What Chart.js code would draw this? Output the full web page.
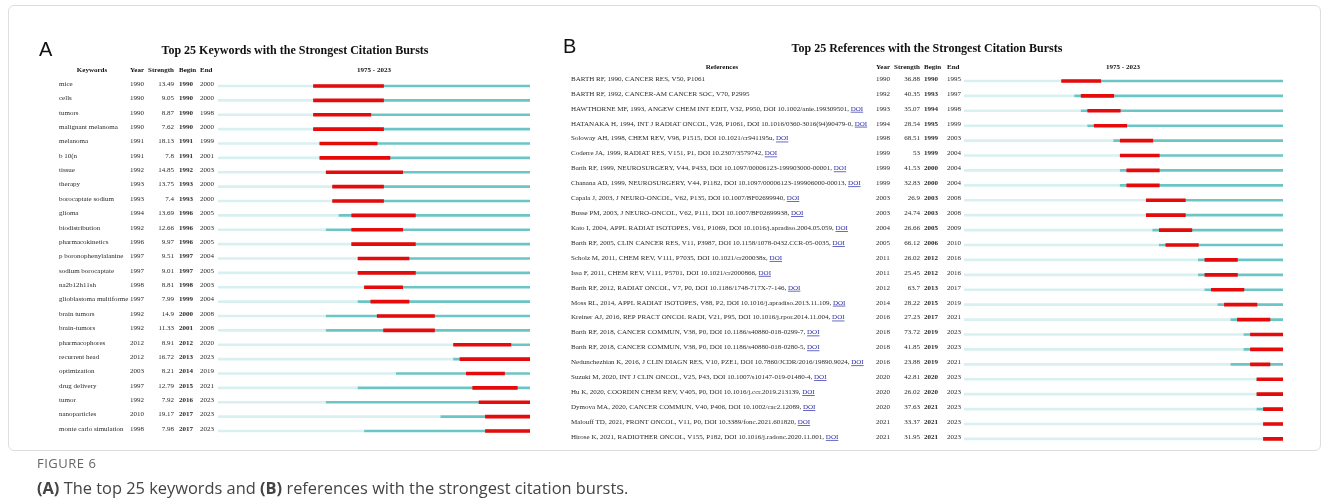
<!DOCTYPE html>
<html>
<head>
<meta charset="utf-8">
<title>Citation bursts</title>
<script src="https://cdn.jsdelivr.net/npm/chart.js@4.4.1/dist/chart.umd.min.js"></script>
<style>
  html, body { margin: 0; padding: 0; background: #fff; }
  body { width: 1328px; height: 501px; position: relative; overflow: hidden; font-family: "Liberation Serif", serif; color: #222; }
  .abs { position: absolute; white-space: nowrap; }
  .frame { position: absolute; left: 8px; top: 5px; width: 1311px; height: 444px; border: 1px solid #dedede; border-radius: 6px; }
  .panel { font-family: "Liberation Sans", Arial, sans-serif; font-size: 20px; line-height: 20px; color: #111; }
  .title { font-weight: bold; font-size: 12px; line-height: 14px; transform: translateX(-50%); color: #111; }
  .hdr { font-weight: bold; font-size: 7px; line-height: 8px; color: #111; }
  .ctr { transform: translateX(-50%); }
  .figlabel { font-family: "Open Sans", sans-serif; font-size: 13px; line-height: 16px; color: #666; letter-spacing: 0.5px; }
  .caption { font-family: "Open Sans", sans-serif; font-size: 16.4px; line-height: 20px; color: #444; }
  .caption b { font-weight: bold; }
  canvas { position: absolute; top: 0; }
</style>
</head>
<body>
<div class="frame"></div>

<canvas id="kwChart" width="560" height="501" style="left:0px;width:560px;height:501px"></canvas>
<canvas id="refChart" width="768" height="501" style="left:560px;width:768px;height:501px"></canvas>

<div class="abs panel" style="left:39px;top:39px">A</div>
<div class="abs title" style="left:295px;top:43px">Top 25 Keywords with the Strongest Citation Bursts</div>
<div class="abs hdr ctr" style="left:92px;top:66px">Keywords</div>
<div class="abs hdr" style="left:130px;top:66px">Year</div>
<div class="abs hdr" style="right:1154px;top:66px">Strength</div>
<div class="abs hdr" style="left:179px;top:66px">Begin</div>
<div class="abs hdr" style="left:200px;top:66px">End</div>
<div class="abs hdr ctr" style="left:374px;top:66px">1975 - 2023</div>

<div class="abs panel" style="left:563px;top:36px">B</div>
<div class="abs title" style="left:927px;top:41px">Top 25 References with the Strongest Citation Bursts</div>
<div class="abs hdr ctr" style="left:722px;top:63px">References</div>
<div class="abs hdr" style="left:876px;top:63px">Year</div>
<div class="abs hdr" style="right:408px;top:63px">Strength</div>
<div class="abs hdr" style="left:924px;top:63px">Begin</div>
<div class="abs hdr" style="left:947px;top:63px">End</div>
<div class="abs hdr ctr" style="left:1123px;top:63px">1975 - 2023</div>

<div class="abs figlabel" style="left:37px;top:455px">FIGURE 6</div>
<div class="abs caption" style="left:37px;top:478px"><b>(A)</b> The top 25 keywords and <b>(B)</b> references with the strongest citation bursts.</div>

<script>
// Time span covered by the burst timelines
const FIRST_YEAR = 1975;
const LAST_YEAR = 2023;

// Panel A: keywords
const keywords = [
  "mice", "cells", "tumors", "malignant melanoma", "melanoma", "b 10(n", "tissue", "therapy",
  "borocaptate sodium", "glioma", "biodistribution", "pharmacokinetics", "p boronophenylalanine",
  "sodium borocaptate", "na2b12h11sh", "glioblastoma multiforme", "brain tumors", "brain-tumors",
  "pharmacophores", "recurrent head", "optimization", "drug delivery", "tumor", "nanoparticles",
  "monte carlo simulation"
];
const kwYear = [1990, 1990, 1990, 1990, 1991, 1991, 1992, 1993, 1993, 1994, 1992, 1996, 1997,
  1997, 1998, 1997, 1992, 1992, 2012, 2012, 2003, 1997, 1992, 2010, 1998];
const kwStrength = [13.49, 9.05, 8.87, 7.62, 18.13, 7.8, 14.85, 13.75, 7.4, 13.69, 12.66, 9.97, 9.51,
  9.01, 8.81, 7.99, 14.9, 11.33, 8.91, 16.72, 8.21, 12.79, 7.92, 19.17, 7.98];
const kwBegin = [1990, 1990, 1990, 1990, 1991, 1991, 1992, 1993, 1993, 1996, 1996, 1996, 1997,
  1997, 1998, 1999, 2000, 2001, 2012, 2013, 2014, 2015, 2016, 2017, 2017];
const kwEnd = [2000, 2000, 1998, 2000, 1999, 2001, 2003, 2000, 2000, 2005, 2003, 2005, 2004,
  2005, 2003, 2004, 2008, 2008, 2020, 2023, 2019, 2021, 2023, 2023, 2023];

// Panel B: references
const references = [
  "BARTH RF, 1990, CANCER RES, V50, P1061",
  "BARTH RF, 1992, CANCER-AM CANCER SOC, V70, P2995",
  "HAWTHORNE MF, 1993, ANGEW CHEM INT EDIT, V32, P950, DOI 10.1002/anie.199309501",
  "HATANAKA H, 1994, INT J RADIAT ONCOL, V28, P1061, DOI 10.1016/0360-3016(94)90479-0",
  "Soloway AH, 1998, CHEM REV, V98, P1515, DOI 10.1021/cr941195u",
  "Coderre JA, 1999, RADIAT RES, V151, P1, DOI 10.2307/3579742",
  "Barth RF, 1999, NEUROSURGERY, V44, P433, DOI 10.1097/00006123-199903000-00001",
  "Chanana AD, 1999, NEUROSURGERY, V44, P1182, DOI 10.1097/00006123-199906000-00013",
  "Capala J, 2003, J NEURO-ONCOL, V62, P135, DOI 10.1007/BF02699940",
  "Busse PM, 2003, J NEURO-ONCOL, V62, P111, DOI 10.1007/BF02699938",
  "Kato I, 2004, APPL RADIAT ISOTOPES, V61, P1069, DOI 10.1016/j.apradiso.2004.05.059",
  "Barth RF, 2005, CLIN CANCER RES, V11, P3987, DOI 10.1158/1078-0432.CCR-05-0035",
  "Scholz M, 2011, CHEM REV, V111, P7035, DOI 10.1021/cr200038x",
  "Issa F, 2011, CHEM REV, V111, P5701, DOI 10.1021/cr2000866",
  "Barth RF, 2012, RADIAT ONCOL, V7, P0, DOI 10.1186/1748-717X-7-146",
  "Moss RL, 2014, APPL RADIAT ISOTOPES, V88, P2, DOI 10.1016/j.apradiso.2013.11.109",
  "Kreiner AJ, 2016, REP PRACT ONCOL RADI, V21, P95, DOI 10.1016/j.rpor.2014.11.004",
  "Barth RF, 2018, CANCER COMMUN, V38, P0, DOI 10.1186/s40880-018-0299-7",
  "Barth RF, 2018, CANCER COMMUN, V38, P0, DOI 10.1186/s40880-018-0280-5",
  "Nedunchezhian K, 2016, J CLIN DIAGN RES, V10, PZE1, DOI 10.7860/JCDR/2016/19890.9024",
  "Suzuki M, 2020, INT J CLIN ONCOL, V25, P43, DOI 10.1007/s10147-019-01480-4",
  "Hu K, 2020, COORDIN CHEM REV, V405, P0, DOI 10.1016/j.ccr.2019.213139",
  "Dymova MA, 2020, CANCER COMMUN, V40, P406, DOI 10.1002/cac2.12089",
  "Malouff TD, 2021, FRONT ONCOL, V11, P0, DOI 10.3389/fonc.2021.601820",
  "Hirose K, 2021, RADIOTHER ONCOL, V155, P182, DOI 10.1016/j.radonc.2020.11.001"
];
const refYear = [1990, 1992, 1993, 1994, 1998, 1999, 1999, 1999, 2003, 2003, 2004, 2005, 2011,
  2011, 2012, 2014, 2016, 2018, 2018, 2016, 2020, 2020, 2020, 2021, 2021];
const refStrength = [36.88, 40.35, 35.07, 28.54, 68.51, 53, 41.53, 32.83, 26.9, 24.74, 26.66, 66.12, 26.02,
  25.45, 63.7, 28.22, 27.23, 73.72, 41.85, 23.88, 42.81, 26.02, 37.63, 33.37, 31.95];
const refBegin = [1990, 1993, 1994, 1995, 1999, 1999, 2000, 2000, 2003, 2003, 2005, 2006, 2012,
  2012, 2013, 2015, 2017, 2019, 2019, 2019, 2020, 2020, 2021, 2021, 2021];
const refEnd = [1995, 1997, 1998, 1999, 2003, 2004, 2004, 2004, 2008, 2008, 2009, 2010, 2016,
  2016, 2017, 2019, 2021, 2023, 2023, 2021, 2023, 2023, 2023, 2023, 2023];

// Timeline colours
const PALE = "#d9f0f0";
const TEAL = "#6cc5c5";
const RED = "#e60a0a";
const TEXT = "#2a2a2a";
const LINK = "#2a2aa8";
const FS = 7;
const SERIF = '"Liberation Serif", "Times New Roman", serif';

function burstChart(canvasId, labels, years, begins, ends, padding, drawRows) {
  return new Chart(document.getElementById(canvasId), {
    type: "bar",
    data: {
      labels: labels,
      datasets: [
        { // burst period
          data: begins.map((b, i) => [b, ends[i] + 1]),
          backgroundColor: RED, barThickness: 3, order: 0
        },
        { // from first appearance onwards
          data: years.map(y => [y, LAST_YEAR + 1]),
          backgroundColor: TEAL, barThickness: 2, order: 1
        },
        { // before first appearance
          data: years.map(y => [FIRST_YEAR, y]),
          backgroundColor: PALE, barThickness: 2, order: 2
        }
      ]
    },
    options: {
      indexAxis: "y",
      responsive: false,
      animation: false,
      devicePixelRatio: 1,
      layout: { padding: padding },
      datasets: { bar: { grouped: false, borderWidth: 0, borderSkipped: false } },
      scales: {
        x: { type: "linear", min: FIRST_YEAR, max: LAST_YEAR + 1, display: false },
        y: { type: "category", offset: true, display: false }
      },
      plugins: { legend: { display: false }, tooltip: { enabled: false }, title: { display: false } }
    },
    plugins: [{ id: "rowText", afterDatasetsDraw: chart => drawRows(chart) }]
  });
}

// Year / Strength / Begin / End columns shared by both tables
function drawStats(ctx, py, x0, year, strength, begin, end, cols) {
  ctx.font = FS + "px " + SERIF;
  ctx.textAlign = "left";
  ctx.fillText(String(year), cols.year - x0, py);
  ctx.textAlign = "right";
  ctx.fillText(String(strength), cols.strength - x0, py);
  ctx.textAlign = "left";
  ctx.font = "bold " + FS + "px " + SERIF;
  ctx.fillText(String(begin), cols.begin - x0, py);
  ctx.font = FS + "px " + SERIF;
  ctx.fillText(String(end), cols.end - x0, py);
}

const TEXT_DY = -2;

// Panel A
burstChart("kwChart", keywords, kwYear, kwBegin, kwEnd,
  { left: 218, right: 30, top: 78.8, bottom: 62.8 },
  chart => {
    const ctx = chart.ctx, yScale = chart.scales.y;
    ctx.save();
    ctx.fillStyle = TEXT;
    ctx.textBaseline = "middle";
    keywords.forEach((kw, i) => {
      const py = yScale.getPixelForValue(i) + TEXT_DY;
      ctx.font = FS + "px " + SERIF;
      ctx.textAlign = "left";
      ctx.fillText(kw, 59, py);
      drawStats(ctx, py, 0, kwYear[i], kwStrength[i], kwBegin[i], kwEnd[i],
        { year: 130, strength: 174, begin: 179, end: 200 });
    });
    ctx.restore();
  });

// Panel B
const B_LEFT = 560;
burstChart("refChart", references, refYear, refBegin, refEnd,
  { left: 404, right: 45, top: 73.5, bottom: 54.6 },
  chart => {
    const ctx = chart.ctx, yScale = chart.scales.y;
    ctx.save();
    ctx.textBaseline = "middle";
    references.forEach((ref, i) => {
      const py = yScale.getPixelForValue(i) + TEXT_DY;
      const x = 571 - B_LEFT;
      ctx.font = FS + "px " + SERIF;
      ctx.textAlign = "left";
      ctx.fillStyle = TEXT;
      if (ref.indexOf("DOI") >= 0) {
        const head = ref + ", ";
        ctx.fillText(head, x, py);
        const lx = x + ctx.measureText(head).width;
        const lw = ctx.measureText("DOI").width;
        ctx.fillStyle = LINK;
        ctx.fillText("DOI", lx, py);
        ctx.fillRect(lx, py + 3, lw, 0.7);
        ctx.fillStyle = TEXT;
      } else {
        ctx.fillText(ref, x, py);
      }
      drawStats(ctx, py, B_LEFT, refYear[i], refStrength[i], refBegin[i], refEnd[i],
        { year: 876, strength: 920, begin: 924, end: 947 });
    });
    ctx.restore();
  });
</script>
</body>
</html>
